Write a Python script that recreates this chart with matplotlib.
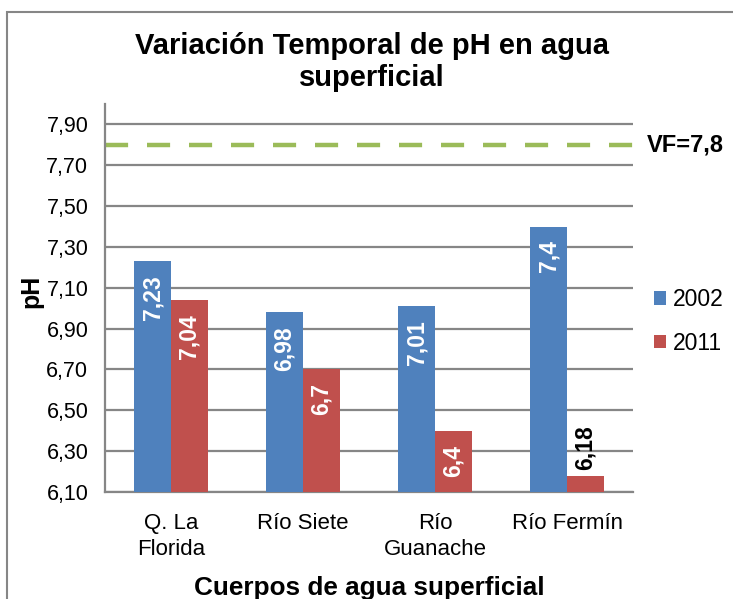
import matplotlib.pyplot as plt
import matplotlib.patches as mpatches
import numpy as np

plt.rcParams['font.family'] = ['Liberation Sans', 'DejaVu Sans']

# datos
cuerpos = ["Q. La\nFlorida", "Río Siete", "Río\nGuanache", "Río Fermín"]
ph_2002 = [7.23, 6.98, 7.01, 7.4]
ph_2011 = [7.04, 6.7, 6.4, 6.18]
etiq_2002 = ["7,23", "6,98", "7,01", "7,4"]
etiq_2011 = ["7,04", "6,7", "6,4", "6,18"]
vf = 7.8
yticks = [6.1, 6.3, 6.5, 6.7, 6.9, 7.1, 7.3, 7.5, 7.7, 7.9]

azul = "#4F81BD"
rojo = "#C0504D"
verde = "#9BBB59"
gris = "#868686"

W, H = 733, 599
fig = plt.figure(figsize=(W/100, H/100), dpi=100)
ax = fig.add_axes([105/W, 1-492/H, 528/W, 388/H])

x = np.arange(len(cuerpos))
w = 0.28
base = 6.1
ax.bar(x - w/2, np.array(ph_2002) - base, w, bottom=base, color=azul, label="2002", zorder=3)
ax.bar(x + w/2, np.array(ph_2011) - base, w, bottom=base, color=rojo, label="2011", zorder=3)

# etiquetas de valores
for i in range(len(x)):
    ax.annotate(etiq_2002[i], (x[i] - w/2, ph_2002[i]), xytext=(0, -10), textcoords="offset points",
                rotation=90, ha="center", va="top", color="white", fontsize=16.5,
                fontweight="bold", zorder=4)
    if ph_2011[i] - base > 0.25:
        ax.annotate(etiq_2011[i], (x[i] + w/2, ph_2011[i]), xytext=(0, -10), textcoords="offset points",
                    rotation=90, ha="center", va="top", color="white", fontsize=16.5,
                    fontweight="bold", zorder=4)
    else:
        ax.annotate(etiq_2011[i], (x[i] + w/2, ph_2011[i]), xytext=(0, 4), textcoords="offset points",
                    rotation=90, ha="center", va="bottom", color="black", fontsize=16.5,
                    fontweight="bold", zorder=4)

# valor de referencia
ax.axhline(vf, color=verde, lw=3.2, dashes=(5.2, 4.25), zorder=2)
ax.text(1.0265, (vf - 6.1) / (8.0 - 6.1), "VF=7,8", transform=ax.transAxes, ha="left", va="center",
        fontsize=17, fontweight="bold")

ax.set_xlim(-0.5, len(cuerpos) - 0.5)
ax.set_ylim(6.1, 8.0)
ax.set_yticks(yticks)
ax.set_yticklabels([("%.2f" % v).replace(".", ",") for v in yticks], fontsize=15.5)
ax.set_xticks(x)
ax.set_xticklabels(cuerpos, fontsize=16, linespacing=1.35)
ax.tick_params(axis="x", length=0, pad=15)
ax.tick_params(axis="y", length=0, pad=12)
ax.grid(axis="y", color=gris, lw=1.6, zorder=1)
for s in ["top", "right"]:
    ax.spines[s].set_visible(False)
for s in ["left", "bottom"]:
    ax.spines[s].set_color(gris)
    ax.spines[s].set_linewidth(1.6)

ax.set_ylabel("pH", fontsize=18, fontweight="bold")
ax.yaxis.set_label_coords(-0.117, 0.518)

fig.text(372/W, 1-62/H, "Variación Temporal de pH en agua\nsuperficial", ha="center", va="center",
         fontsize=21, fontweight="bold", linespacing=1.2)
fig.text(369/W, 1-595/H, "Cuerpos de agua superficial", ha="center", va="baseline",
         fontsize=18.8, fontweight="bold")

fig.legend(loc="center left", bbox_to_anchor=(654/W, 1-321.5/H), frameon=False, fontsize=16.5,
           handlelength=0.52, handleheight=0.52, handletextpad=0.3, labelspacing=0.9,
           borderpad=0, borderaxespad=0)

# borde del gráfico
fig.patches.append(mpatches.Rectangle((7/W, -0.1), 1.0, 1 - 12/H + 0.1, transform=fig.transFigure,
                                      fill=False, edgecolor=gris, lw=1.5))

fig.savefig("out.png", dpi=100)
